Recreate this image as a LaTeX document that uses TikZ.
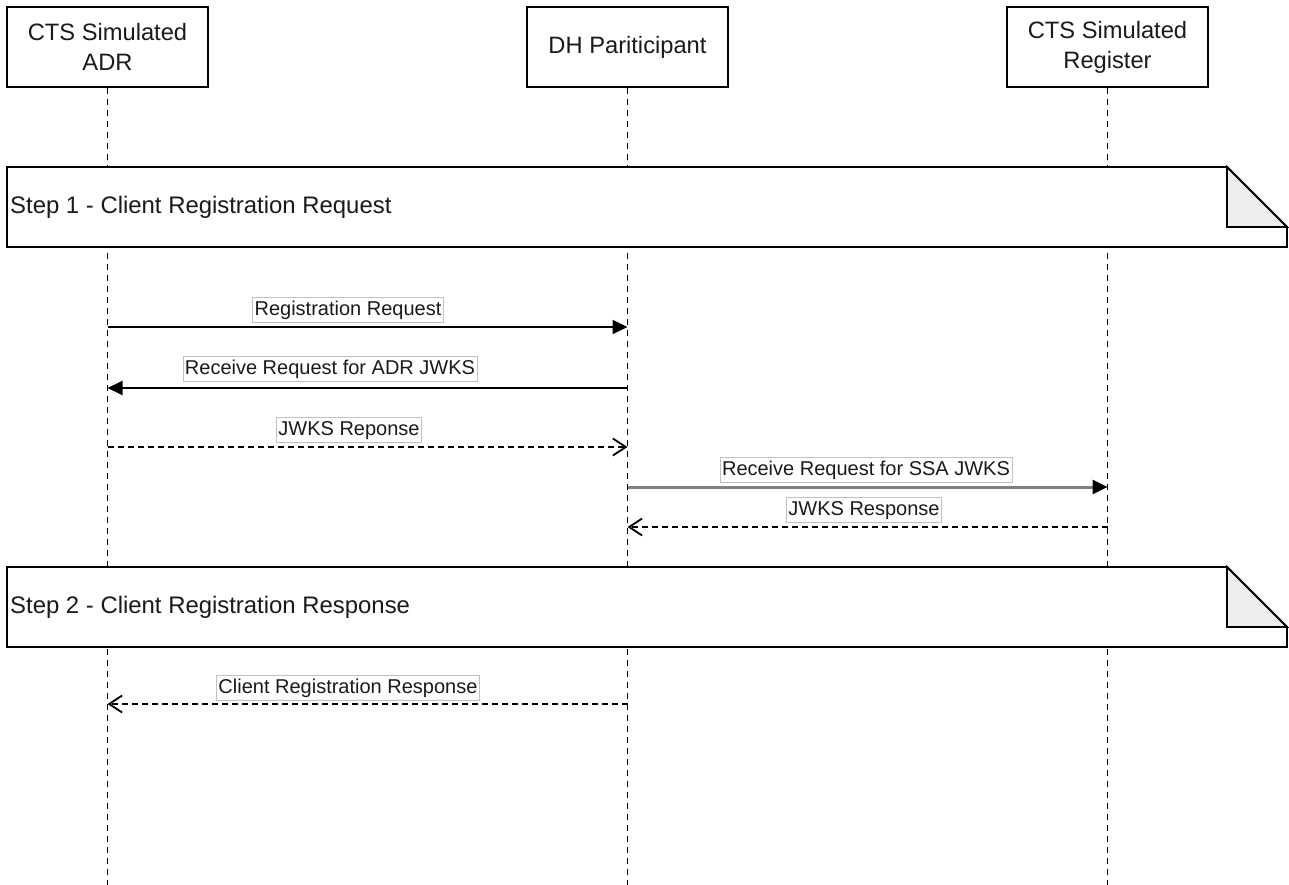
\documentclass[tikz,border=0pt]{standalone}
\usepackage{fontspec}
\setmainfont{Liberation Sans}
\usetikzlibrary{arrows.meta}
\definecolor{foldgray}{HTML}{EEEEEE}
\definecolor{lblborder}{HTML}{C0C0C0}
\definecolor{msggray}{HTML}{808080}
\definecolor{txt}{HTML}{1A1A1A}
\begin{document}
\begin{tikzpicture}[x=1pt,y=-1pt,
  actor/.style={draw, line width=1.8pt, fill=white, minimum width=201pt, minimum height=80pt, inner sep=0pt, align=center, text=txt, font=\fontsize{23.7}{30}\selectfont},
  lifeline/.style={line width=1.5pt, dash pattern=on 6pt off 5pt},
  msglabel/.style={fill=white, draw=lblborder, line width=0.9pt, inner xsep=2pt, inner ysep=3pt, text height=15pt, text depth=4pt, text=txt, font=\fontsize{20}{24}\selectfont},
  call/.style={line width=2pt, -{Triangle[length=15pt,width=14pt]}},
  graycall/.style={line width=3pt, draw=msggray, -{Triangle[length=15pt,width=14pt,color=black,fill=black]}},
  reply/.style={line width=1.8pt, dash pattern=on 6pt off 4pt, -{Straight Barb[length=13pt,width=17pt]}},
  noteframe/.style={draw, line width=1.8pt, fill=white},
  notetext/.style={anchor=west, inner sep=0pt, text=txt, font=\fontsize{23.9}{28}\selectfont}
]
\useasboundingbox (0,0) rectangle (1289,885);

% participants
\node[actor] (adr) at (107.5,47) {CTS Simulated\\ADR};
\node[actor] (dh) at (627.5,47) {DH Pariticipant};
\node[actor] (reg) at (1107.5,47) {CTS Simulated\\Register};

\coordinate (adrend) at (107.5,885);
\coordinate (dhend) at (627.5,885);
\coordinate (regend) at (1107.5,885);

\draw[lifeline] (adr.south) -- (adrend);
\draw[lifeline] (dh.south) -- (dhend);
\draw[lifeline] (reg.south) -- (regend);

% step notes
\draw[noteframe] (7,167) -- (1227,167) -- (1287,227) -- (1287,247) -- (7,247) -- cycle;
\filldraw[line width=1.8pt, fill=foldgray] (1227,167) -- (1227,227) -- (1287,227) -- cycle;
\node[notetext] (step1) at (10,207) {Step 1 - Client Registration Request};

\draw[noteframe] (7,567) -- (1227,567) -- (1287,627) -- (1287,647) -- (7,647) -- cycle;
\filldraw[line width=1.8pt, fill=foldgray] (1227,567) -- (1227,627) -- (1287,627) -- cycle;
\node[notetext] (step2) at (10,607) {Step 2 - Client Registration Response};

% message anchor points on lifelines
\coordinate (a1) at (107.5,327); \coordinate (d1) at (627.5,327);
\coordinate (a2) at (107.5,388); \coordinate (d2) at (627.5,388);
\coordinate (a3) at (107.5,447); \coordinate (d3) at (627.5,447);
\coordinate (d4) at (627.5,487); \coordinate (r4) at (1107.5,487);
\coordinate (d5) at (627.5,527); \coordinate (r5) at (1107.5,527);
\coordinate (a6) at (107.5,704); \coordinate (d6) at (627.5,704);

% messages
\draw[call] (a1) -- (d1);
\node[msglabel] (l1) at (348,309.5) {Registration Request};

\draw[call] (d2) -- (a2);
\node[msglabel] (l2) at (330,369) {Receive Request for ADR JWKS};

\draw[reply] (a3) -- (d3);
\node[msglabel] (l3) at (349,429.5) {JWKS Reponse};

\draw[graycall] (d4) -- (r4);
\node[msglabel] (l4) at (866,469.5) {Receive Request for SSA JWKS};

\draw[reply] (r5) -- (d5);
\node[msglabel] (l5) at (864,509.5) {JWKS Response};

\draw[reply] (d6) -- (a6);
\node[msglabel] (l6) at (348,688) {Client Registration Response};
\end{tikzpicture}
\end{document}
